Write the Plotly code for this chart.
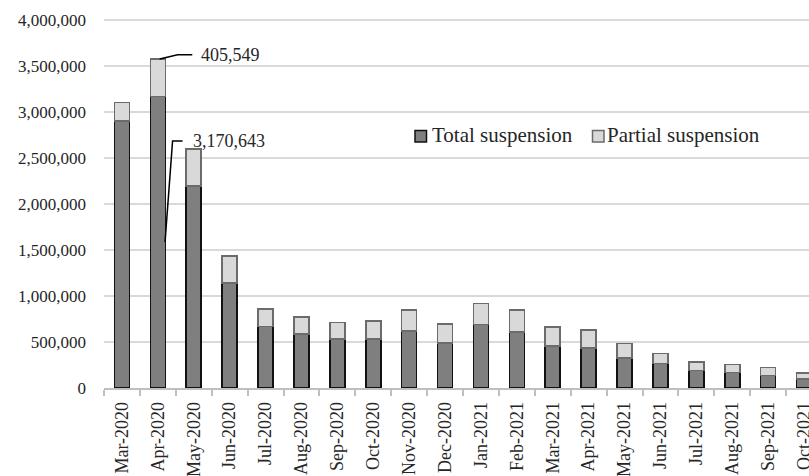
import plotly.graph_objects as go

# Monthly counts of workers under suspension
months = ["Mar-2020", "Apr-2020", "May-2020", "Jun-2020", "Jul-2020", "Aug-2020",
          "Sep-2020", "Oct-2020", "Nov-2020", "Dec-2020", "Jan-2021", "Feb-2021",
          "Mar-2021", "Apr-2021", "May-2021", "Jun-2021", "Jul-2021", "Aug-2021",
          "Sep-2021", "Oct-2021"]
total_susp = [2900000, 3170643, 2195000, 1140000, 668000, 585000, 530000, 535000,
              618000, 490000, 692000, 610000, 458000, 432000, 328000, 265000,
              192000, 167000, 138000, 96000]
partial_susp = [205000, 405549, 403000, 298000, 194000, 185000, 180000, 195000,
                232000, 206000, 228000, 241000, 205000, 198000, 154000, 112000,
                91000, 90000, 83000, 64000]

FONT = "Liberation Serif"
TXT = "#262626"
W, H = 809, 476
ML, MT, MB = 104, 15, 88
PLOT_W = W - ML
PLOT_H = H - MT - MB
Y_TOP = 4_000_000 * PLOT_H / (PLOT_H - 5)   # 4,000,000 gridline sits 5px below the top
X_END = -0.5 + PLOT_W / 35.9                # category pitch ~35.9px

fig = go.Figure()
fig.add_trace(go.Bar(
    x=months, y=total_susp, name="Total suspension", width=0.42,
    marker=dict(color="#7f7f7f", line=dict(color="#111111", width=1.6)),
))
fig.add_trace(go.Bar(
    x=months, y=partial_susp, name="Partial suspension", width=0.42,
    marker=dict(color="#d9d9d9", line=dict(color="#6b6b6b", width=1.6)),
))

# Leader lines and labels for the April 2020 bar
i = 1
top = total_susp[i] + partial_susp[i]
lab_y1 = top + 45000
fig.add_shape(type="path", xref="x", yref="y",
              path=f"M {i + 0.05},{top} L {i + 0.55},{lab_y1} L {i + 0.96},{lab_y1}",
              line=dict(color="#000000", width=1.5))
fig.add_annotation(x=i + 1.16, y=lab_y1, xref="x", yref="y", text=f"{partial_susp[i]:,}",
                   showarrow=False, xanchor="left", yanchor="middle",
                   font=dict(family=FONT, size=18, color=TXT))

lab_y2 = total_susp[i] * 0.847
fig.add_shape(type="path", xref="x", yref="y",
              path=f"M {i + 0.69},{lab_y2} L {i + 0.41},{lab_y2} L {i + 0.2},{total_susp[i] * 0.5}",
              line=dict(color="#000000", width=1.5))
fig.add_annotation(x=i + 0.93, y=lab_y2, xref="x", yref="y", text=f"{total_susp[i]:,}",
                   showarrow=False, xanchor="left", yanchor="middle",
                   font=dict(family=FONT, size=18, color=TXT))

# Legend drawn as swatches + labels
def px_x(px):
    return (px - ML) / PLOT_W

def px_y(py):
    return (H - MB - py) / PLOT_H

legend_items = [("Total suspension", "#7f7f7f", "#111111", 415, 433),
                ("Partial suspension", "#d9d9d9", "#6b6b6b", 592.5, 608)]
for name, fill, edge, sx, tx in legend_items:
    fig.add_shape(type="rect", xref="paper", yref="paper",
                  x0=px_x(sx), x1=px_x(sx + 11.5), y0=px_y(142), y1=px_y(130.5),
                  fillcolor=fill, line=dict(color=edge, width=1.5))
    fig.add_annotation(x=px_x(tx - 3), y=px_y(135), xref="paper", yref="paper",
                       text=name, showarrow=False, xanchor="left", yanchor="middle",
                       font=dict(family=FONT, size=21, color=TXT))

fig.update_layout(
    width=W, height=H,
    margin=dict(l=ML, r=0, t=MT, b=MB, pad=0),
    barmode="stack",
    showlegend=False,
    plot_bgcolor="white", paper_bgcolor="white",
    font=dict(family=FONT, size=18, color=TXT),
)
fig.update_xaxes(
    type="category", range=[-0.5, X_END], automargin=False,
    showline=True, linecolor="#bfbfbf", linewidth=1.5,
    ticks="outside", tickson="boundaries", ticklen=6, tickcolor="#bfbfbf", tickwidth=1.5,
    tickangle=-90, showgrid=False, ticklabelstandoff=5,
    tickfont=dict(family=FONT, size=18, color=TXT),
)
fig.update_yaxes(
    range=[0, Y_TOP], dtick=500000, tick0=0, tickformat=",d", automargin=False,
    showgrid=True, gridcolor="#d9d9d9", gridwidth=1.5,
    zeroline=False, showline=False, ticks="",
    ticklabelstandoff=17,
    tickfont=dict(family=FONT, size=17, color=TXT),
)

fig.write_html("out.html")
